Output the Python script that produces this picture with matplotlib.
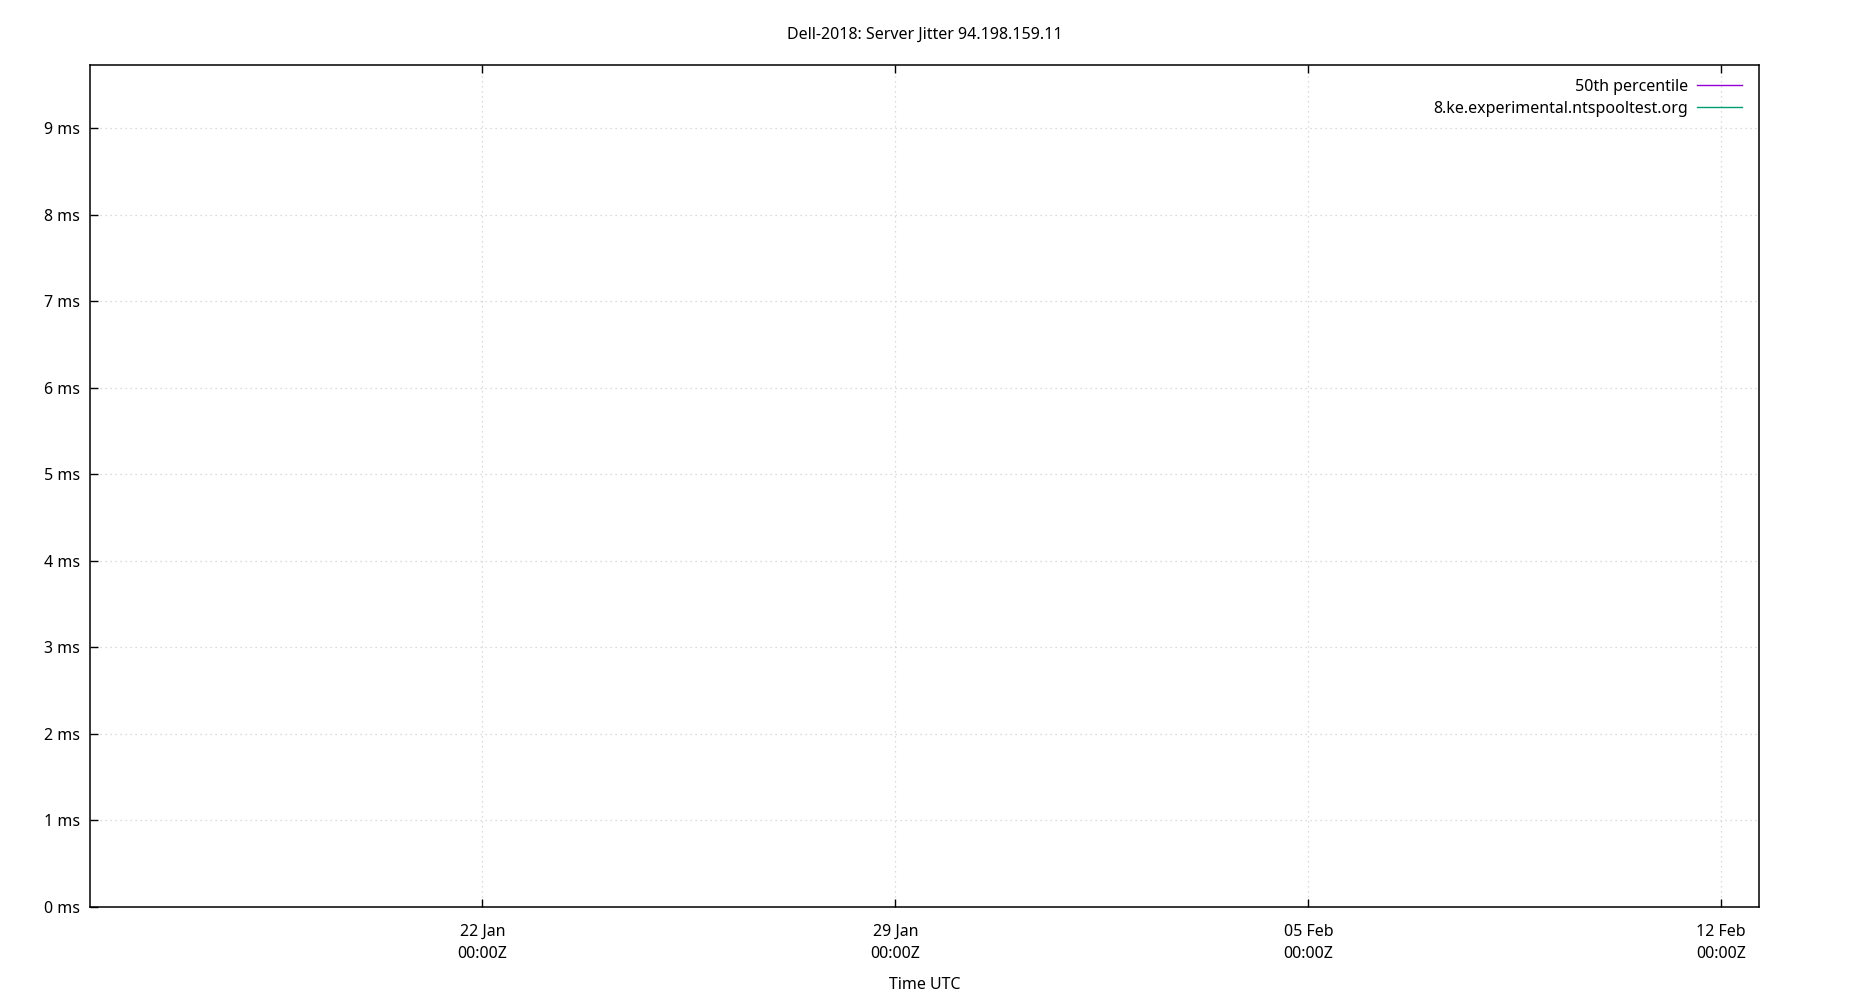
import matplotlib
matplotlib.use("Agg")
import matplotlib.pyplot as plt
import matplotlib.dates as mdates
from datetime import datetime

# ---- data (series are empty in the reference) ----
title = "Dell-2018: Server Jitter 94.198.159.11"
series_labels = ["50th percentile", "8.ke.experimental.ntspooltest.org"]
series_colors = ["#9400d3", "#009e73"]
times_p50 = []
values_p50 = []
times_server = []
values_server = []
x_start = datetime(2025, 1, 15, 8, 24)
x_end = datetime(2025, 2, 12, 15, 20)
x_ticks = [datetime(2025, 1, 22), datetime(2025, 1, 29), datetime(2025, 2, 5), datetime(2025, 2, 12)]
y_max = 9.73
y_ticks = [0, 1, 2, 3, 4, 5, 6, 7, 8, 9]
y_tick_labels = [f"{v} ms" for v in y_ticks]

plt.rcParams['font.family'] = ['Noto Sans', 'DejaVu Sans']
W, H = 1850, 1000
fig = plt.figure(figsize=(W / 100, H / 100), dpi=100)
L, R, T, B = 90, 1759, 65, 907
ax = fig.add_axes([L / W, 1 - B / H, (R - L) / W, (B - T) / H])

ax.plot(times_p50, values_p50, color=series_colors[0], lw=1.0, label=series_labels[0])
ax.plot(times_server, values_server, color=series_colors[1], lw=1.0, label=series_labels[1])

ax.set_xlim(x_start, x_end)
ax.set_ylim(0, y_max)
ax.set_xticks(x_ticks)
ax.xaxis.set_major_formatter(mdates.DateFormatter('%d %b\n%H:%MZ'))
ax.set_yticks(y_ticks)
ax.set_yticklabels(y_tick_labels)

fs = 11.5
ax.tick_params(axis='x', direction='in', length=6, width=1, top=True, bottom=True,
               labelsize=fs, pad=12, colors='black')
ax.tick_params(axis='y', direction='in', length=6, width=1, left=True, right=False,
               labelsize=fs, pad=7, colors='black')
fig.canvas.draw()
for lab in ax.get_xticklabels():
    lab.set_linespacing(1.5)
    lab.set_horizontalalignment('center')

for s in ax.spines.values():
    s.set_linewidth(1.1)
    s.set_color('black')

ax.grid(True, color='#d0d0d0', linestyle=(0, (1, 3)), linewidth=0.9)
ax.set_axisbelow(True)

fig.text(925 / W, 1 - 35 / H, title, ha='center', va='center', fontsize=fs)
fig.text(925 / W, 1 - 985 / H, "Time UTC", ha='center', va='center', fontsize=fs)

leg = ax.legend(loc='upper right', bbox_to_anchor=(1742 / W, 1 - 79 / H),
                bbox_transform=fig.transFigure, frameon=False, markerfirst=False,
                fontsize=fs, handlelength=2.8, handletextpad=0.6,
                borderpad=0, borderaxespad=0, labelspacing=0.38)

fig.savefig("out.png", dpi=100, facecolor='white')
